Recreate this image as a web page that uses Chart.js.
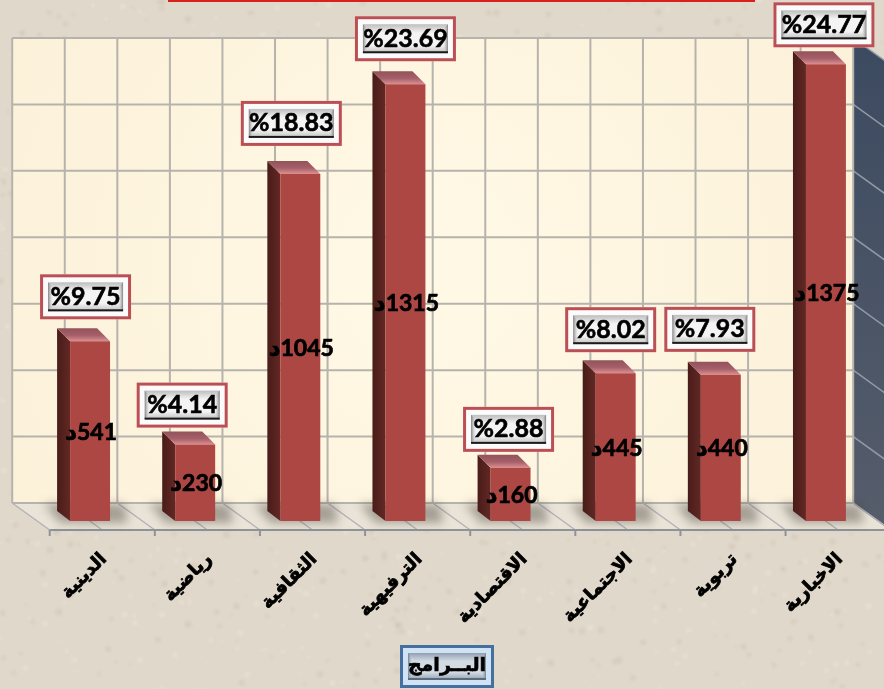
<!DOCTYPE html>
<html lang="ar">
<head>
<meta charset="utf-8">
<title>البرامج</title>
<style>
    html, body { margin: 0; padding: 0; background: #e0d8ca; }
    canvas { display: block; }
</style>
<script src="https://cdn.jsdelivr.net/npm/chart.js@4"></script>
</head>
<body>
<canvas id="programChart" width="884" height="689"></canvas>
<script>
// Chart data
const programs = ['الدينية', 'رياضية', 'الثقافية', 'الترفيهية', 'الاقتصادية', 'الاجتماعية', 'تربوية', 'الاخبارية'];
const minutes = [541, 230, 1045, 1315, 160, 445, 440, 1375];
const percents = [9.75, 4.14, 18.83, 23.69, 2.88, 8.02, 7.93, 24.77];
const axisTitle = 'البــرامج';
const valueUnit = 'د';

// The percent tags were placed by hand in the original, so each one has its own nudge
const tagShiftX = [-4.5, -13, -9, 0, -2, -5, -11, -2];
const tagGap = [21, 16, 27, 22, 15, 20, 22, 16];

// 3D look: wall sits behind the bars, floor runs forward from the wall
const wallDx = 25.3, wallDy = 18;
const floorDx = 37.5, floorDy = 27;
const barDx = 13, barTopDy = 13, barBaseDy = 10;

function poly(ctx, points, fill) {
    ctx.beginPath();
    points.forEach((p, i) => i ? ctx.lineTo(p[0], p[1]) : ctx.moveTo(p[0], p[1]));
    ctx.closePath();
    ctx.fillStyle = fill;
    ctx.fill();
}

function line(ctx, x1, y1, x2, y2, color, width) {
    ctx.beginPath();
    ctx.moveTo(x1, y1);
    ctx.lineTo(x2, y2);
    ctx.strokeStyle = color;
    ctx.lineWidth = width;
    ctx.stroke();
}

// Paper texture for the background, fixed pattern so every render is the same
function speckle(ctx, width, height) {
    const hash = n => {
        const s = Math.sin(n * 12.9898) * 43758.5453;
        return s - Math.floor(s);
    };
    ctx.save();
    ctx.filter = 'blur(1.5px)';
    for (let i = 0; i < 1500; i++) {
        const dark = hash(i + 0.5) > 0.55;
        ctx.fillStyle = dark ? 'rgba(160, 148, 130, 0.16)' : 'rgba(244, 239, 228, 0.3)';
        ctx.beginPath();
        ctx.arc(hash(i + 0.1) * width, hash(i + 0.2) * height, 1 + hash(i + 0.3) * 2.2, 0, Math.PI * 2);
        ctx.fill();
    }
    ctx.restore();
}

// Outer framed box with a bevelled button inside, used for the percent tags and the axis title
function drawTag(ctx, cx, top, w, h, innerW, innerH, text, font, look) {
    const x = cx - w / 2;
    ctx.fillStyle = look.paper;
    ctx.fillRect(x, top, w, h);
    ctx.strokeStyle = look.frame;
    ctx.lineWidth = 3;
    ctx.strokeRect(x + 1.5, top + 1.5, w - 3, h - 3);

    const ix = cx - innerW / 2, iy = top + (h - innerH) / 2;
    const face = ctx.createLinearGradient(0, iy, 0, iy + innerH);
    face.addColorStop(0, look.edge);
    face.addColorStop(0.3, look.face);
    face.addColorStop(0.72, look.face);
    face.addColorStop(1, look.edge);
    ctx.fillStyle = face;
    ctx.fillRect(ix, iy, innerW, innerH);

    const b = 6;
    const leftFade = ctx.createLinearGradient(ix, 0, ix + b, 0);
    leftFade.addColorStop(0, look.side);
    leftFade.addColorStop(1, 'rgba(255, 255, 255, 0)');
    poly(ctx, [[ix, iy], [ix + b, iy + b], [ix + b, iy + innerH - b], [ix, iy + innerH]], leftFade);
    const rightFade = ctx.createLinearGradient(ix + innerW, 0, ix + innerW - b, 0);
    rightFade.addColorStop(0, look.side);
    rightFade.addColorStop(1, 'rgba(255, 255, 255, 0)');
    poly(ctx, [[ix + innerW, iy], [ix + innerW - b, iy + b], [ix + innerW - b, iy + innerH - b], [ix + innerW, iy + innerH]], rightFade);

    ctx.fillStyle = look.bottom;
    ctx.fillRect(ix, iy + innerH - 2, innerW, 2);

    ctx.fillStyle = '#000000';
    ctx.strokeStyle = '#000000';
    ctx.lineWidth = 0.6;
    ctx.font = font;
    ctx.textAlign = 'center';
    ctx.textBaseline = 'middle';
    ctx.fillText(text, cx, iy + innerH / 2);
    ctx.strokeText(text, cx, iy + innerH / 2);
}

const percentLook = { paper: '#fbfbfb', frame: '#bb4f53', edge: '#bdbdbd', face: '#f4f4f4', side: '#808080', bottom: '#1a1a1a' };
const titleLook = { paper: '#cfe3f5', frame: '#44709f', edge: '#8fa0b2', face: '#d3dbe3', side: '#6f8094', bottom: '#5a6b7e' };

const roomPlugin = {
    id: 'room',
    beforeDraw(chart) {
        const { ctx, scales: { x, y } } = chart;
        const y0 = y.getPixelForValue(0) - wallDy;
        const yTop = y.getPixelForValue(1400) - wallDy;
        const step = (x.getPixelForValue(1) - x.getPixelForValue(0)) / 2;
        const xLeft = x.getPixelForValue(0) - wallDx - step;
        const xRight = x.getPixelForValue(programs.length - 1) - wallDx + step;

        ctx.save();
        ctx.fillStyle = '#e0d8ca';
        ctx.fillRect(0, 0, chart.width, chart.height);
        speckle(ctx, chart.width, chart.height);

        // red strip left over at the top edge
        ctx.fillStyle = '#d8201c';
        ctx.fillRect(168, 0, 587, 2);

        // back wall
        const wall = ctx.createRadialGradient(430, 270, 80, 430, 270, 520);
        wall.addColorStop(0, '#fff8e4');
        wall.addColorStop(1, '#fcf0d8');
        ctx.fillStyle = wall;
        ctx.fillRect(xLeft, yTop, xRight - xLeft, y0 - yTop);

        // floor is a little lighter than the paper around it
        poly(ctx, [[xLeft, y0], [xRight, y0], [xRight + floorDx, y0 + floorDy], [xLeft + floorDx, y0 + floorDy]], 'rgba(238, 233, 222, 0.7)');

        // right side wall
        const sideWall = ctx.createLinearGradient(0, yTop, 0, y0 + floorDy);
        sideWall.addColorStop(0, '#3c4a60');
        sideWall.addColorStop(1, '#565d6b');
        poly(ctx, [[xRight, yTop], [xRight + floorDx, yTop + floorDy], [xRight + floorDx, y0 + floorDy], [xRight, y0]], sideWall);

        // wall grid
        y.ticks.forEach(t => {
            const py = y.getPixelForValue(t.value) - wallDy;
            line(ctx, xLeft, py, xRight, py, '#b6b3ad', 2);
            line(ctx, xRight, py, xRight + floorDx, py + floorDy, '#929aa6', 1.5);
        });
        for (let i = 0; i <= programs.length * 2; i++) {
            const px = xLeft + i * step;
            line(ctx, px, yTop, px, y0, '#b6b3ad', 2);
            line(ctx, px, y0, px + floorDx, y0 + floorDy, '#b2b2b8', 1.5);
            // ticks only on the category borders
            if (i % 2 === 0) {
                line(ctx, px + floorDx, y0 + floorDy, px + floorDx, y0 + floorDy + 6, '#8f9398', 2);
            }
        }
        line(ctx, xLeft + floorDx, y0 + floorDy, chart.width, y0 + floorDy, '#8f9398', 2);
        ctx.restore();
    },
    beforeDatasetsDraw(chart) {
        const { ctx } = chart;
        const bars = chart.getDatasetMeta(0).data;
        ctx.save();
        bars.forEach(bar => {
            const left = bar.x - bar.width / 2, right = bar.x + bar.width / 2;

            // soft shadow on the floor
            ctx.save();
            ctx.filter = 'blur(5px)';
            poly(ctx, [[left - 26, bar.base - 17], [right + 14, bar.base - 17], [right + 18, bar.base + 2], [left - 10, bar.base + 2]], 'rgba(70, 62, 55, 0.42)');
            ctx.restore();

            // left side of the bar
            const side = ctx.createLinearGradient(left - barDx, 0, left, 0);
            side.addColorStop(0, '#491c19');
            side.addColorStop(1, '#622824');
            poly(ctx, [[left - barDx, bar.y - barTopDy], [left, bar.y], [left, bar.base], [left - barDx, bar.base - barBaseDy]], side);

            // top of the bar, going pink towards the front edge
            const top = ctx.createLinearGradient(0, bar.y - barTopDy, 0, bar.y);
            top.addColorStop(0, '#93525a');
            top.addColorStop(0.55, '#a5606a');
            top.addColorStop(1, '#dd8f91');
            poly(ctx, [[left - barDx, bar.y - barTopDy], [right - barDx, bar.y - barTopDy], [right, bar.y], [left, bar.y]], top);
        });
        ctx.restore();
    },
    afterDatasetsDraw(chart) {
        const { ctx } = chart;
        const bars = chart.getDatasetMeta(0).data;
        ctx.save();
        bars.forEach((bar, i) => {
            // value in the middle of the bar, unit letter to its left
            const label = valueUnit + '\u200E' + minutes[i];
            const ly = (bar.y + bar.base) / 2 + 1;
            ctx.fillStyle = '#000000';
            ctx.strokeStyle = '#000000';
            ctx.lineWidth = 0.7;
            ctx.font = 'bold 23px Lato, "DejaVu Sans"';
            ctx.textAlign = 'center';
            ctx.textBaseline = 'middle';
            ctx.fillText(label, bar.x + 1, ly);
            ctx.strokeText(label, bar.x + 1, ly);

            // percent tag above the bar
            const text = '%' + percents[i].toFixed(2);
            const w = text.length > 5 ? 101 : 91;
            drawTag(ctx, bar.x + tagShiftX[i], bar.y - tagGap[i] - 46, w, 45, w - 16, 29, text, 'bold 25px Lato', percentLook);
        });

        drawTag(ctx, 447, 645, 94, 43, 78, 27, axisTitle, 'bold 19px "DejaVu Sans"', titleLook);
        ctx.restore();
    }
};

const chartCtx = document.getElementById('programChart').getContext('2d');

const programChart = new Chart(chartCtx, {
    type: 'bar',
    data: {
        labels: programs,
        datasets: [{
            data: minutes,
            backgroundColor: '#ad4743',
            borderWidth: 0,
            barPercentage: 0.38,
            categoryPercentage: 1
        }]
    },
    options: {
        responsive: false,
        animation: false,
        layout: { padding: { left: 37.5, right: 5.5, top: 56, bottom: 0 } },
        plugins: {
            legend: { display: false },
            tooltip: { enabled: false }
        },
        scales: {
            x: {
                grid: { display: false },
                border: { display: false },
                afterFit: scale => { scale.height = 168; },
                ticks: {
                    minRotation: 45,
                    maxRotation: 45,
                    autoSkip: false,
                    padding: 20,
                    labelOffset: 14,
                    color: '#000000',
                    textStrokeColor: '#000000',
                    textStrokeWidth: 0.8,
                    font: { family: '"DejaVu Sans"', weight: 'bold', size: 18 }
                }
            },
            y: {
                display: false,
                min: 0,
                max: 1400,
                ticks: { stepSize: 200 }
            }
        }
    },
    plugins: [roomPlugin]
});
</script>
</body>
</html>
